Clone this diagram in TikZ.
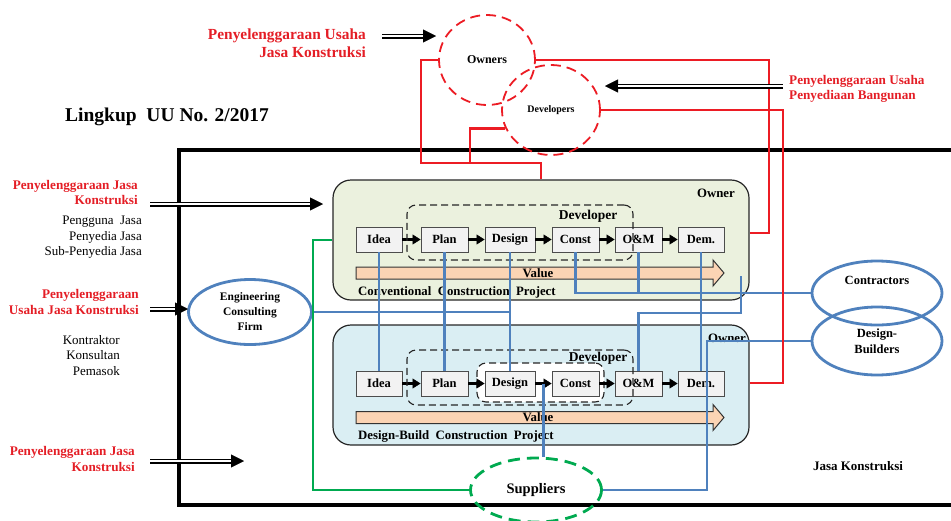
\documentclass[tikz,border=0pt]{standalone}
\usepackage{fontspec}
\setmainfont{Liberation Serif}
\usetikzlibrary{shapes.geometric,arrows.meta,calc}
\definecolor{rdl}{RGB}{236,28,36}
\definecolor{rdt}{RGB}{228,30,38}
\definecolor{bll}{RGB}{79,129,189}
\definecolor{grl}{RGB}{0,170,80}
\definecolor{convf}{RGB}{235,241,222}
\definecolor{dbf}{RGB}{218,238,243}
\definecolor{peach}{RGB}{251,212,180}
\definecolor{pfill}{RGB}{242,242,242}
\begin{document}
\begin{tikzpicture}[x=1pt,y=-1pt,
 pbox/.style={draw=black!70, fill=pfill, line width=0.9pt, minimum height=25pt, inner sep=0pt, font=\bfseries\fontsize{12.5}{14}\selectfont},
 flow/.style={line width=2.4pt, -{Triangle[length=8pt,width=10pt,line width=0.4pt]}},
 bigbox/.style={draw=black!85, line width=1.2pt, rounded corners=18pt, minimum width=416pt, minimum height=120pt, inner sep=0pt},
 devbox/.style={draw=black!85, line width=1.1pt, dash pattern=on 7pt off 4pt, rounded corners=9pt, inner sep=0pt},
 bl/.style={draw=bll, line width=2.8pt},
 rl/.style={draw=rdl, line width=2.6pt},
 gl/.style={draw=grl, line width=2.6pt},
 redt/.style={text=rdt, font=\bfseries\fontsize{13.2}{15.5}\selectfont, align=right, inner sep=0pt},
 blkt/.style={font=\fontsize{13}{15.5}\selectfont, align=right, inner sep=0pt},
 boldt/.style={font=\bfseries\fontsize{12.8}{14}\selectfont, inner sep=0pt},
 ell/.style={ellipse, inner sep=0pt, line width=2.8pt, align=center},
 dblout/.style={line width=5pt, -{Triangle[length=13pt,width=13pt,line width=0.4pt]}},
 dblin/.style={white, line width=1.8pt, shorten >=13pt},
 varrow/.style={draw=black!80, line width=1pt, fill=peach}
]
\useasboundingbox (0,0) rectangle (951,520);

% frame
\draw[line width=3.2pt] (960,150) -- (179,150) -- (179,505) -- (960,505);

% project boxes
\node[bigbox, fill=convf] (conv) at (541,240) {};
\node[bigbox, fill=dbf] (db) at (541,385) {};
\node[devbox, fill=white, minimum width=127pt, minimum height=39pt] (inner2) at (540.5,382.5) {};

% process boxes row 1
\node[pbox, minimum width=46pt] (idea1) at (379,239.5) {Idea};
\node[pbox, minimum width=47pt] (plan1) at (444.5,239.5) {Plan};
\node[pbox, minimum width=50pt] (design1) at (510,239.5) {Design};
\node[pbox, minimum width=47pt] (const1) at (575.5,239.5) {Const};
\node[pbox, minimum width=47pt] (om1) at (638.5,239.5) {O\&M};
\node[pbox, minimum width=46pt] (dem1) at (701,239.5) {Dem.};
% row 2
\node[pbox, minimum width=46pt] (idea2) at (379,383.5) {Idea};
\node[pbox, minimum width=47pt] (plan2) at (444.5,383.5) {Plan};
\node[pbox, minimum width=50pt] (design2) at (510,383.5) {Design};
\node[pbox, minimum width=47pt] (const2) at (575.5,383.5) {Const};
\node[pbox, minimum width=47pt] (om2) at (638.5,383.5) {O\&M};
\node[pbox, minimum width=46pt] (dem2) at (701,383.5) {Dem.};

\foreach \r in {1,2}{
 \draw[flow] (idea\r) -- (plan\r);
 \draw[flow] (plan\r) -- (design\r);
 \draw[flow] (design\r) -- (const\r);
 \draw[flow] (const\r) -- (om\r);
 \draw[flow] (om\r) -- (dem\r);
}

% developer boxes
\node[devbox, minimum width=226pt, minimum height=55pt] (dev1b) at (520,232.5) {};
\node[devbox, minimum width=226pt, minimum height=55pt] (dev2b) at (520,377.5) {};
\node[boldt, font=\bfseries\fontsize{13.5}{15}\selectfont] (devl1) at (588,216) {Developer};
\node[boldt, font=\bfseries\fontsize{13.5}{15}\selectfont] (devl2) at (598,358) {Developer};

% value arrows
\draw[varrow] (356,267) -- (713,267) -- (713,260) -- (724,273) -- (713,286) -- (713,279) -- (356,279) -- cycle;
\draw[varrow] (356,411.5) -- (713,411.5) -- (713,404.5) -- (724,417.5) -- (713,430.5) -- (713,423.5) -- (356,423.5) -- cycle;
\node[boldt] (val1) at (538,273) {Value};
\node[boldt] (val2) at (538,417.5) {Value};

% box labels
\node[boldt] (own1) at (716,193) {Owner};
\node[boldt] (own2) at (727,338) {Owner};
\node[boldt, anchor=west] (cp) at (358,292) {Conventional\ \ Construction\ \ Project};
\node[boldt, anchor=west] (dbp) at (358,436) {Design-Build\ \ Construction\ \ Project};

% ellipses
\node[ell, draw=rdl, line width=1.8pt, dash pattern=on 10pt off 6pt, minimum width=96pt, minimum height=90pt, font=\bfseries\fontsize{12}{14}\selectfont] (owners) at (487,60) {Owners};
\node[ell, draw=rdl, line width=1.8pt, dash pattern=on 10pt off 6pt, minimum width=98pt, minimum height=90pt, font=\bfseries\fontsize{10}{12}\selectfont] (dev) at (551,110) {Developers};
\node[ell, draw=bll, minimum width=123pt, minimum height=65pt, font=\bfseries\fontsize{11.5}{15}\selectfont] (ecf) at (250,312) {Engineering\\Consulting\\Firm};
\node[ell, draw=bll, minimum width=130pt, minimum height=64pt] (contr) at (877,293) {};
\node[boldt, font=\bfseries\fontsize{12.5}{14}\selectfont] (contrt) at (877,280) {Contractors};
\node[ell, draw=bll, minimum width=130pt, minimum height=68pt, font=\bfseries\fontsize{12.5}{16}\selectfont] (dbld) at (877,341) {Design-\\Builders};
\node[ell, draw=grl, dash pattern=on 12pt off 7pt, minimum width=131pt, minimum height=64pt, font=\bfseries\fontsize{14.5}{16}\selectfont] (sup) at (536,490) {Suppliers};

% blue connectors
\draw[bl] (idea1.south) -- (idea2.north);
\draw[bl] (plan1.south) -- (plan2.north);
\draw[bl] (design1.south) -- (design2.north);
\draw[bl] (ecf.east) -- (ecf.east -| design1.south);
\draw[bl] (const1.south) |- (contr.west);
\draw[bl] (om1.south) -- (om1.south |- contr.west);
\draw[bl] (dem1.south) -- (dem2.north);
\coordinate (c1) at (741,276);
\coordinate (c2) at (741,313);
\draw[bl] (c1) -- (c2) -| (om2.north);
\coordinate (c3) at (707,420);
\draw[bl] (dbld.west) -| (c3) |- (sup.east);
\coordinate (c4) at ($(design2.east)!0.5!(const2.west)$);
\draw[bl] (c4) -- (c4 |- sup.north);

% red connectors
\coordinate (r1) at (769,233);
\draw[rl] (owners.east) -| (r1) -- (r1 -| conv.east);
\coordinate (r2) at (783,383);
\draw[rl] (dev.east) -| (r2) -- (r2 -| db.east);
\coordinate (r3) at (421,163);
\draw[rl] (owners.west) -| (r3) -| (conv.north);
\coordinate (r4) at (470,163);
\draw[rl] (dev.202) -| (r4);

% green connector
\coordinate (g1) at (313,490);
\draw[gl] (conv.west) -| (g1) -- (sup.west);

% texts
\node[redt, font=\bfseries\fontsize{15.4}{18}\selectfont, anchor=east] (t1) at (366,43) {Penyelenggaraan Usaha\\Jasa Konstruksi};
\node[redt, align=left, anchor=west] (t2) at (789,89) {Penyelenggaraan Usaha\\Penyediaan Bangunan};
\node[font=\bfseries\fontsize{19.5}{22}\selectfont, anchor=west, inner sep=0pt] (ling) at (65,117) {Lingkup\ \ UU No. 2/2017};
\node[redt, anchor=east] (t3) at (138,192.5) {Penyelenggaraan Jasa\\Konstruksi};
\node[blkt, anchor=east] (t4) at (142,237.5) {Pengguna\ \ Jasa\\Penyedia Jasa\\Sub-Penyedia Jasa};
\node[redt, anchor=east] (t5) at (139,302) {Penyelenggaraan\\Usaha Jasa Konstruksi};
\node[blkt, anchor=east] (t6) at (120,355.5) {Kontraktor\\Konsultan\\Pemasok};
\node[redt, anchor=east] (t7) at (135,459) {Penyelenggaraan Jasa\\Konstruksi};
\node[boldt, font=\bfseries\fontsize{13}{15}\selectfont] (jk) at (858,466) {Jasa Konstruksi};

% double arrows
\coordinate (a1s) at (382,36); \coordinate (a1e) at (436,36);
\coordinate (a2s) at (783,86); \coordinate (a2e) at (605,86);
\coordinate (a3s) at (150,204); \coordinate (a3e) at (323,204);
\coordinate (a4s) at (150,309); \coordinate (a4e) at (188,309);
\coordinate (a5s) at (150,461); \coordinate (a5e) at (244,461);
\foreach \s/\e in {a1s/a1e,a2s/a2e,a3s/a3e,a4s/a4e,a5s/a5e}{
 \draw[dblout] (\s) -- (\e);
 \draw[dblin] (\s) -- (\e);
}
\end{tikzpicture}
\end{document}
